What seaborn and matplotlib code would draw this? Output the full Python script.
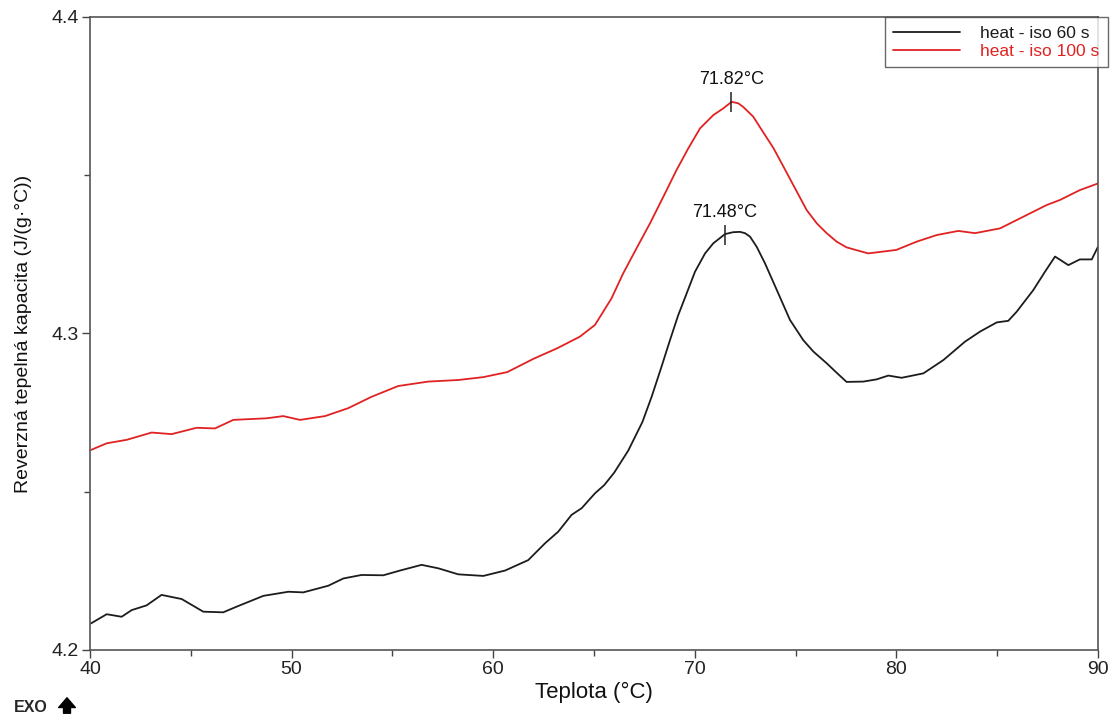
import numpy as np
import pandas as pd
import matplotlib
matplotlib.use('Agg')
import matplotlib.pyplot as plt
import seaborn as sns
from matplotlib.ticker import MultipleLocator

# heat - iso 60 s (black)
t_60 = [40.05, 40.83, 41.57, 42.07, 42.81, 43.55, 44.55, 45.62, 46.61, 47.28, 48.6, 49.84,
        50.58, 51.82, 52.57, 53.47, 54.55, 55.38, 56.45, 57.28, 58.27, 59.51, 60.59, 61.74,
        62.57, 63.23, 63.89, 64.39, 65.05, 65.51, 66.0, 66.7, 67.4, 67.86, 68.35, 68.77,
        69.18, 69.6, 70.01, 70.51, 70.92, 71.5, 71.9, 72.24, 72.49, 72.74, 73.07, 73.48,
        74.14, 74.72, 75.38, 75.88, 76.54, 77.07, 77.53, 78.36, 79.02, 79.6, 80.26, 81.34,
        82.33, 83.4, 84.15, 84.98, 85.55, 85.97, 86.79, 87.37, 87.87, 88.53, 89.1, 89.69, 90.0]
cp_60 = [4.2084, 4.2113, 4.2105, 4.2126, 4.2141, 4.2174, 4.2161, 4.2121, 4.2119, 4.2137, 4.2171, 4.2184,
         4.2182, 4.2203, 4.2226, 4.2237, 4.2236, 4.2251, 4.2269, 4.2258, 4.2239, 4.2234, 4.2251, 4.2284,
         4.2337, 4.2374, 4.2427, 4.2448, 4.2495, 4.2521, 4.2560, 4.2630, 4.2720, 4.2800, 4.2895, 4.2979,
         4.3058, 4.3127, 4.3195, 4.3253, 4.3285, 4.3314, 4.3320, 4.3321, 4.3317, 4.3306, 4.3274, 4.3222,
         4.3127, 4.3043, 4.2979, 4.2943, 4.2906, 4.2874, 4.2847, 4.2848, 4.2855, 4.2867, 4.2860, 4.2874,
         4.2916, 4.2974, 4.3006, 4.3035, 4.3040, 4.3069, 4.3137, 4.3195, 4.3243, 4.3216, 4.3234, 4.3234, 4.3274]

# heat - iso 100 s (red)
t_100 = [40.05, 40.83, 41.82, 43.06, 44.05, 45.29, 46.2, 47.11, 48.76, 49.59, 50.42, 51.66,
         52.81, 53.97, 55.29, 56.78, 58.27, 59.5, 60.7, 62.0, 63.2, 64.3, 65.05, 65.87,
         66.45, 67.11, 67.78, 68.44, 69.1, 69.68, 70.26, 70.59, 70.92, 71.41, 71.83, 72.16,
         72.4, 72.9, 73.32, 73.9, 74.4, 74.97, 75.55, 76.05, 76.54, 77.04, 77.53, 78.6,
         80.0, 81.0, 82.0, 83.07, 83.9, 85.14, 86.3, 87.46, 88.12, 89.1, 90.0]
cp_100 = [4.2632, 4.2653, 4.2664, 4.2687, 4.2682, 4.2702, 4.2700, 4.2727, 4.2732, 4.2739, 4.2727, 4.2739,
          4.2764, 4.2800, 4.2834, 4.2848, 4.2853, 4.2862, 4.2878, 4.2920, 4.2954, 4.2990, 4.3027, 4.3111,
          4.3190, 4.3269, 4.3348, 4.3432, 4.3517, 4.3585, 4.3648, 4.3669, 4.3690, 4.3711, 4.3732, 4.3727,
          4.3716, 4.3685, 4.3643, 4.3586, 4.3527, 4.3459, 4.3390, 4.3348, 4.3317, 4.3290, 4.3272, 4.3253,
          4.3264, 4.3290, 4.3311, 4.3324, 4.3317, 4.3332, 4.3369, 4.3406, 4.3422, 4.3453, 4.3474]

peak_T = [71.48, 71.82]
peak_cp = [4.3312, 4.3732]
peak_labels = ['71.48°C', '71.82°C']
series_names = ['heat - iso 60 s', 'heat - iso 100 s']
colors = ['#1c1c1c', '#e02222']

df = pd.concat([
    pd.DataFrame({'T': t_60, 'cp': cp_60, 'run': series_names[0]}),
    pd.DataFrame({'T': t_100, 'cp': cp_100, 'run': series_names[1]}),
])

sns.set_style("white")
plt.rcParams['font.family'] = ['Liberation Sans', 'DejaVu Sans']

fig = plt.figure(figsize=(11.12, 7.16), dpi=100)
ax = fig.add_axes([0.0809, 0.0922, 0.9065, 0.8841])

sns.lineplot(data=df, x='T', y='cp', hue='run', palette=colors, sort=False,
             estimator=None, linewidth=1.3, solid_joinstyle='round', ax=ax)

# peak markers + labels
for t, c, lab in zip(peak_T, peak_cp, peak_labels):
    ax.plot([t], [c], marker='|', color='#222222', markersize=14, markeredgewidth=1.1)
    ax.annotate(lab, (t, c), xytext=(0, 10), textcoords='offset points',
                ha='center', va='bottom', fontsize=13, color='#111111')

ax.set_xlim(40, 90)
ax.set_ylim(4.2, 4.4)
ax.xaxis.set_major_locator(MultipleLocator(10))
ax.xaxis.set_minor_locator(MultipleLocator(5))
ax.yaxis.set_major_locator(MultipleLocator(0.1))
ax.yaxis.set_minor_locator(MultipleLocator(0.05))
ax.tick_params(which='major', direction='out', length=6, width=1, color='#444444',
               labelsize=14, labelcolor='#222222', left=True, bottom=True, pad=2)
ax.tick_params(which='minor', direction='out', length=4, width=1, color='#444444',
               left=True, bottom=True)
for s in ax.spines.values():
    s.set_color('#555555')
    s.set_linewidth(1.2)

ax.set_xlabel('Teplota (°C)', fontsize=16, color='#111111', labelpad=3)
ax.set_ylabel('Reverzná tepelná kapacita (J/(g·°C))', fontsize=14, color='#111111', labelpad=14)

leg = ax.legend(loc='upper right', bbox_to_anchor=(1108 / 1112, 1 - 17 / 716),
                bbox_transform=fig.transFigure, frameon=True, fancybox=False,
                fontsize=12.5, handlelength=3.85, handletextpad=1.15, labelspacing=0.15,
                borderpad=0.5, borderaxespad=0)
leg.get_frame().set_edgecolor('#444444')
leg.get_frame().set_linewidth(1.0)
for txt, col in zip(leg.get_texts(), colors):
    txt.set_color(col)

# EXO direction mark
fig.text(14 / 1112, 1 - 707 / 716, 'EXO', fontsize=11.5, fontweight='bold', va='center', ha='left')
ax.annotate('', xy=(67 / 1112, 1 - 695 / 716), xytext=(67 / 1112, 0.0),
            xycoords='figure fraction', textcoords='figure fraction',
            arrowprops=dict(arrowstyle='simple,head_length=0.7,head_width=1.2,tail_width=0.5',
                            color='black'))

fig.savefig('out.png', dpi=100)
